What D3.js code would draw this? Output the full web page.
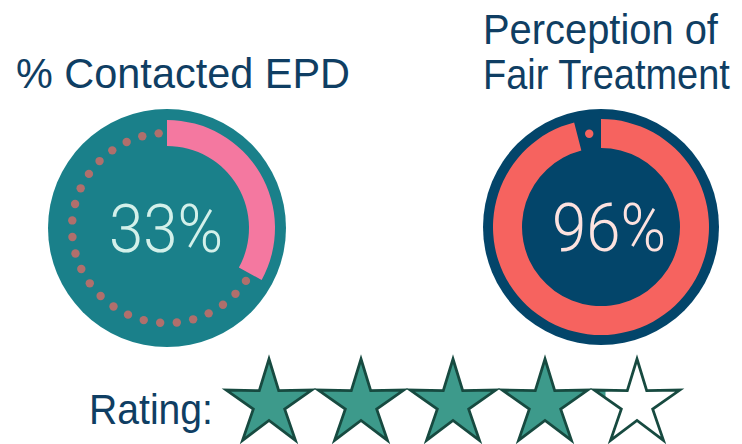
<!DOCTYPE html>
<html>
<head>
<meta charset="utf-8">
<script src="https://cdn.jsdelivr.net/npm/d3@7"></script>
<style>
  body { margin: 0; background: #fff; }
  text { font-family: "Liberation Sans", Arial, sans-serif; }
</style>
</head>
<body>
<div id="chart"></div>
<script>
// data
const gaugeNames = ["% Contacted EPD", "Perception of\nFair Treatment"];
const gaugeValues = [0.33, 0.96];
const gaugeLabels = ["33%", "96%"];
const ratingLabel = "Rating:";
const ratingValue = 4.15;
const ratingMax = 5;

const width = 742, height = 444;

const svg = d3.select("#chart")
  .append("svg")
  .attr("width", width)
  .attr("height", height);

const angle = d3.scaleLinear().domain([0, 1]).range([0, 2 * Math.PI]);

// squeeze a text horizontally to a target width (the source font is a narrow Helvetica)
function fitText(sel, x, y, w) {
  const natural = sel.node().getComputedTextLength();
  const k = Math.min(1, w / natural);
  sel.attr("x", 0).attr("y", 0)
    .attr("transform", `translate(${x},${y}) scale(${k},1)`);
}

const gauges = [
  { cx: 167, cy: 228, r: 119, inner: 82, outer: 108, dotR: 95, bg: "#1a808a", fill: "#f478a0", dot: "#b06f6c", text: "#d3f0ea", textX: -1,
    title: { x: 16, y: [88], w: [334] } },
  { cx: 601, cy: 227, r: 118, inner: 79, outer: 108, dotR: 94, bg: "#03456a", fill: "#f6635f", dot: "#f6635f", text: "#fde2df", textX: 8,
    title: { x: 483, y: [44, 89], w: [235, 247] } }
];

gauges.forEach((g, i) => {
  const v = gaugeValues[i];
  const grp = svg.append("g").attr("transform", `translate(${g.cx},${g.cy})`);

  grp.append("circle").attr("r", g.r).attr("fill", g.bg);

  const arc = d3.arc()
    .innerRadius(g.inner)
    .outerRadius(g.outer)
    .startAngle(angle(0))
    .endAngle(angle(v));
  grp.append("path").attr("d", arc()).attr("fill", g.fill);

  // dotted remainder of the ring
  const spacing = 17;
  const remLen = (angle(1) - angle(v)) * g.dotR;
  const n = Math.max(1, Math.round(remLen / spacing));
  const dots = d3.range(n).map(k => v + (1 - v) * (k + 0.5) / n);
  grp.selectAll(".dot")
    .data(dots)
    .join("circle")
    .attr("class", "dot")
    .attr("cx", d => g.dotR * Math.sin(angle(d)))
    .attr("cy", d => -g.dotR * Math.cos(angle(d)))
    .attr("r", 4.2)
    .attr("fill", g.dot);

  grp.append("text")
    .attr("x", g.textX)
    .attr("y", 24)
    .attr("text-anchor", "middle")
    .attr("font-size", 66)
    .attr("textLength", 114)
    .attr("lengthAdjust", "spacingAndGlyphs")
    .attr("fill", g.text)
    .style("font-family", "Roboto, 'Liberation Sans', sans-serif")
    .style("font-weight", 300)
    .text(gaugeLabels[i]);

  // title
  gaugeNames[i].split("\n").forEach((line, j) => {
    const t = svg.append("text")
      .attr("font-size", 42)
      .attr("fill", "#0f3e63")
      .text(line);
    fitText(t, g.title.x, g.title.y[j], g.title.w[j]);
  });
});

// rating
const rt = svg.append("text")
  .attr("font-size", 42)
  .attr("fill", "#0f3e63")
  .text(ratingLabel);
fitText(rt, 89, 424, 124);

const starX = d3.scaleLinear().domain([0, ratingMax - 1]).range([269, 637]);
const starR = 45, starInner = 16.5, starCy = 404;

const starPts = d3.range(10).map(k => [k * Math.PI / 5, k % 2 === 0 ? starR : starInner]);
const starPath = d3.lineRadial().curve(d3.curveLinearClosed)(starPts);

const defs = svg.append("defs");
const stars = svg.selectAll(".star")
  .data(d3.range(ratingMax))
  .join("g")
  .attr("class", "star")
  .attr("transform", d => `translate(${starX(d)},${starCy})`);

stars.each(function (d) {
  const s = d3.select(this);
  const frac = Math.max(0, Math.min(1, ratingValue - d));
  const id = "clip" + d;
  defs.append("clipPath").attr("id", id)
    .append("rect")
    .attr("x", -starR)
    .attr("y", -starR)
    .attr("width", frac * 2 * starR)
    .attr("height", 2 * starR);
  s.append("path").attr("d", starPath).attr("fill", "#fff");
  s.append("path").attr("d", starPath).attr("fill", "#3d9a8b")
    .attr("clip-path", `url(#${id})`);
  s.append("path").attr("d", starPath).attr("fill", "none")
    .attr("stroke", "#174a40").attr("stroke-width", 2.8);
});
</script>
</body>
</html>
